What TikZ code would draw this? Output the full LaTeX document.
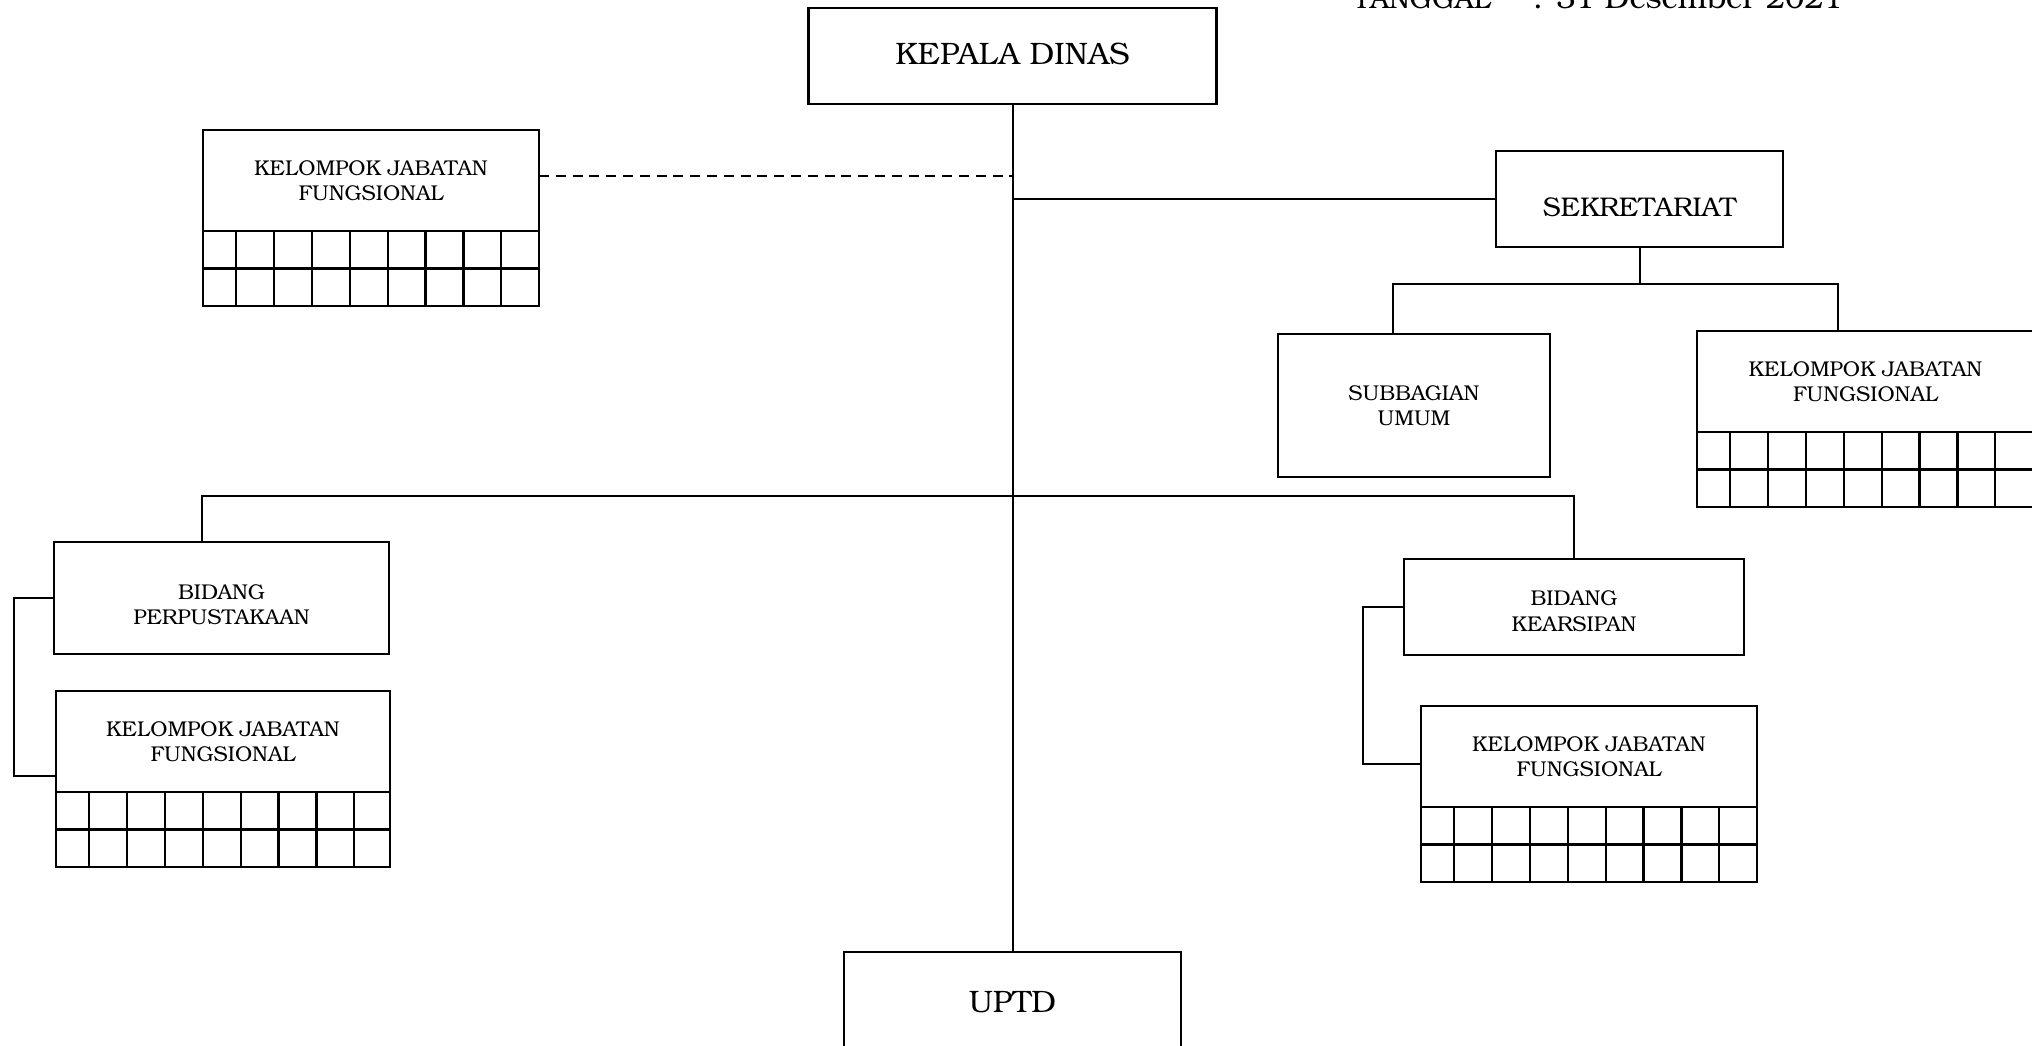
\documentclass[tikz,border=0pt]{standalone}
\usepackage{fontspec}
\setmainfont{TeX Gyre Bonum}
\usetikzlibrary{calc}
\newcommand{\besar}{\fontsize{31}{37}\selectfont}
\newcommand{\sedang}{\fontsize{27}{32}\selectfont}
\newcommand{\kecil}{\fontsize{21.4}{25.5}\selectfont}
\tikzset{
  kotak/.style={draw, line width=2.4pt, rectangle, inner sep=0pt, outer sep=0pt,
                align=center, font=\besar},
  kotakkecil/.style={kotak, font=\kecil},
  garis/.style={line width=2pt},
  garisputus/.style={line width=2pt, dash pattern=on 10pt off 6.8pt},
  kisi/.style={line width=2.2pt},
  teks/.style={inner sep=0pt},
}
% kisi 2 x 9 di bawah kotak kelompok jabatan fungsional
\newcommand{\gridjf}[1]{%
  \draw[kisi] (#1.south west) rectangle ($(#1.south east)+(0,75)$);
  \draw[kisi] ($(#1.south west)+(0,37.5)$) -- ($(#1.south east)+(0,37.5)$);
  \foreach \k in {0,...,7}
    \draw[kisi] ($(#1.south west)+(33+37.9*\k,0)$) -- ++(0,75);
}

\begin{document}
\begin{tikzpicture}[x=1pt,y=-1pt]
\useasboundingbox (0,0) rectangle (2032,1046);
\clip (0,0) rectangle (2032,1046);

% tanggal (terpotong di atas)
\node[teks, anchor=base west, font=\fontsize{28}{34}\selectfont] (tglkunci) at (1353,9) {TANGGAL};
\node[teks, anchor=base west, font=\besar] (tglisi) at (1533,9) {: 31 Desember 2021};

% kotak-kotak
\node[kotak, minimum width=408pt, minimum height=96pt] (kadis) at (1012.5,56)
  {\rule[-5pt]{0pt}{5pt}KEPALA DINAS};
\node[kotakkecil, minimum width=336pt, minimum height=101pt] (jfdinas) at (371,180.5)
  {KELOMPOK JABATAN\\FUNGSIONAL};
\gridjf{jfdinas}
\node[kotak, font=\sedang, minimum width=287pt, minimum height=96pt] (sek) at (1639.5,199)
  {\rule{0pt}{36pt}SEKRETARIAT};
\node[kotakkecil, minimum width=272pt, minimum height=143pt] (subbag) at (1414,405.5)
  {SUBBAGIAN\\UMUM};
\node[kotakkecil, minimum width=337pt, minimum height=101pt] (jfsek) at (1865.5,381.5)
  {KELOMPOK JABATAN\\FUNGSIONAL};
\gridjf{jfsek}
\node[kotakkecil, minimum width=335pt, minimum height=112pt] (bidperp) at (221.5,598)
  {\rule{0pt}{28pt}BIDANG\\PERPUSTAKAAN};
\node[kotakkecil, minimum width=334pt, minimum height=101pt] (jfperp) at (223,741.5)
  {KELOMPOK JABATAN\\FUNGSIONAL};
\gridjf{jfperp}
\node[kotakkecil, minimum width=340pt, minimum height=96pt] (bidarsip) at (1574,607)
  {\rule{0pt}{23pt}BIDANG\\KEARSIPAN};
\node[kotakkecil, minimum width=336pt, minimum height=101pt] (jfarsip) at (1589,756.5)
  {KELOMPOK JABATAN\\FUNGSIONAL};
\gridjf{jfarsip}
\node[kotak, minimum width=337pt, minimum height=100pt] (uptd) at (1012.5,1002) {UPTD};

% garis komando
\coordinate (barsek) at ([yshift=-37pt]sek.south);
\coordinate (barbidang) at (1012.5,496);
\draw[garis] (kadis.south) -- (uptd.north);
\draw[garisputus] ([yshift=4.5pt]jfdinas.east) -- ([yshift=4.5pt]jfdinas.east -| kadis.south);
\draw[garis] (sek.west) -- (sek.west -| kadis.south);
\draw[garis] (sek.south) -- (barsek);
\draw[garis] ([xshift=-21pt]subbag.north) |- (barsek) -| ([xshift=-27.5pt]jfsek.north);
\draw[garis] ([xshift=-19.5pt]bidperp.north) |- (barbidang) -| (bidarsip.north);
\draw[garis] (bidperp.west) -- ++(-40,0) |- ([yshift=-34.5pt]jfperp.west);
\draw[garis] (bidarsip.west) -- ++(-41,0) |- ([yshift=-7.5pt]jfarsip.west);
\end{tikzpicture}
\end{document}
